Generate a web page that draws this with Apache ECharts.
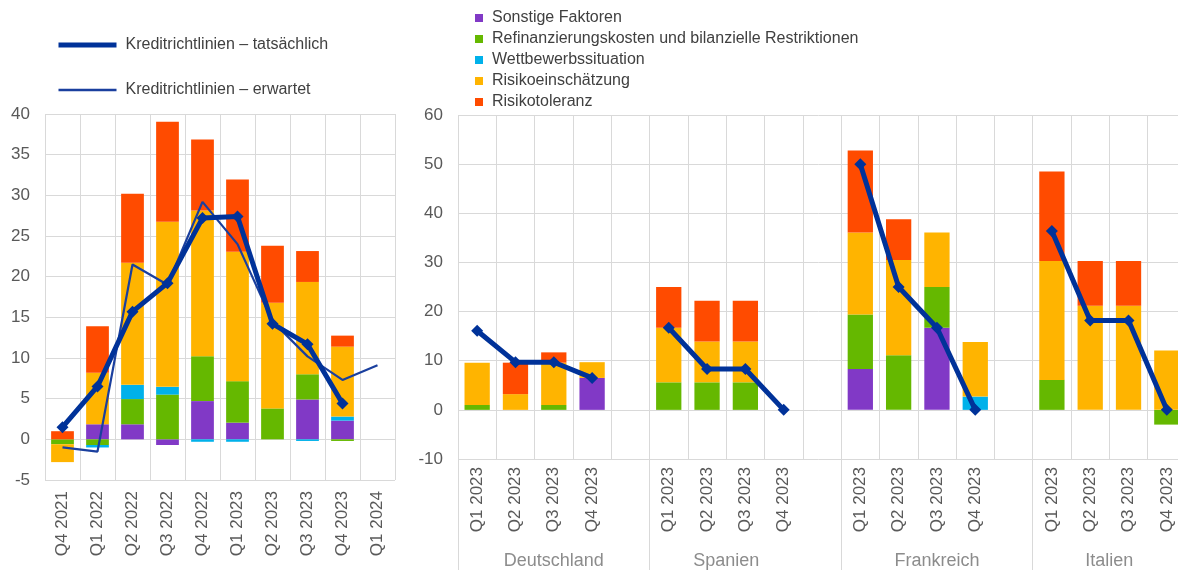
<!DOCTYPE html>
<html lang="de">
<head>
<meta charset="utf-8">
<title>Kreditrichtlinien und Einflussfaktoren</title>
<script src="https://cdn.jsdelivr.net/npm/echarts@6/dist/echarts.min.js"></script>
<style>
  html, body { margin: 0; padding: 0; background: #ffffff; }
  #chart { width: 1178px; height: 574px; }
</style>
</head>
<body>
<div id="chart"></div>
<script>
// Euroraum: Beiträge der Faktoren je Quartal (Prozentpunkte)
const leftQuarters = ['Q4 2021', 'Q1 2022', 'Q2 2022', 'Q3 2022', 'Q4 2022',
                      'Q1 2023', 'Q2 2023', 'Q3 2023', 'Q4 2023', 'Q1 2024'];
const leftSonstige     = [0,    1.85, 1.85, -0.7, 4.7,   2.05, 0,    4.9,   2.3,  null];
const leftRefinanz     = [-0.6, -0.7, 3.1,  5.5,  5.5,   5.1,  3.8,  3.1,  -0.2,  null];
const leftWettbewerb   = [0,    -0.3, 1.75, 0.95, -0.3, -0.3,  0,   -0.2,   0.5,  null];
const leftRisikoEinsch = [-2.2, 6.35, 15.0, 20.3, 17.95, 15.9, 13.0, 11.35, 8.6,  null];
const leftRisikoTol    = [1.0,  5.7,  8.5,  12.3, 8.7,   8.9,  7.0,  3.8,   1.35, null];
const leftActual       = [1.5,  6.5,  15.7, 19.2, 27.2,  27.4, 14.2, 11.7,  4.4,  null];
const leftExpected     = [-1.0, -1.5, 21.5, 19.0, 29.2,  24.0, 14.5, 10.2,  7.3,  9.1];

// Länder: je vier Quartale 2023 (Deutschland, Spanien, Frankreich, Italien)
const countries = ['Deutschland', 'Spanien', 'Frankreich', 'Italien'];
const quarters2023 = ['Q1 2023', 'Q2 2023', 'Q3 2023', 'Q4 2023'];
const ctrySonstige     = [0, 0, 0, 6.5,      0, 0, 0, 0,        8.3, 0, 16.7, 0,      0, 0, 0, 0];
const ctryRefinanz     = [1.0, 0, 1.0, 0,    5.6, 5.6, 5.6, 0,  11.1, 11.1, 8.3, 0,   6.1, 0, 0, -3.0];
const ctryWettbewerb   = [0, 0, 0, 0,        0, 0, 0, 0,        0, 0, 0, 2.7,         0, 0, 0, 0];
const ctryRisikoEinsch = [8.6, 3.2, 8.6, 3.2, 11.1, 8.3, 8.3, 0, 16.7, 19.4, 11.1, 11.1, 24.2, 21.2, 21.2, 12.1];
const ctryRisikoTol    = [0, 6.4, 2.1, 0,    8.3, 8.3, 8.3, 0,  16.7, 8.3, 0, 0,      18.2, 9.1, 9.1, 0];
const ctryActual       = [16.1, 9.7, 9.7, 6.5, 16.7, 8.3, 8.3, 0, 50.0, 25.0, 16.7, 0, 36.4, 18.2, 18.2, 0];

const NAME_ACTUAL = 'Kreditrichtlinien – tatsächlich';
const NAME_EXPECTED = 'Kreditrichtlinien – erwartet';
const factorNames = ['Sonstige Faktoren',
                     'Refinanzierungskosten und bilanzielle Restriktionen',
                     'Wettbewerbssituation',
                     'Risikoeinschätzung',
                     'Risikotoleranz'];
const factorColors = ['#8139c6', '#65b800', '#00b1ea', '#ffb400', '#ff4b00'];

// Insert an empty category between the country blocks
function withGaps(values, gapValue) {
  const out = [];
  countries.forEach((c, ci) => {
    for (let q = 0; q < quarters2023.length; q++) out.push(values[ci * quarters2023.length + q]);
    if (ci < countries.length - 1) out.push(gapValue);
  });
  return out;
}
const rightCategories = withGaps(countries.flatMap(() => quarters2023), '');
const BLOCK = quarters2023.length + 1;

// Half-step axis used only to centre the country names below the quarter labels
const groupSteps = [5, 14, 25, 34];
const groupAxisData = new Array(rightCategories.length * 2 + 1).fill('');
countries.forEach((c, i) => { groupAxisData[groupSteps[i]] = c; });

const FONT = 'Liberation Sans, Arial, sans-serif';
const GRID_COLOR = '#d9d9d9';
const LABEL_COLOR = '#595959';
const LINE_COLOR = '#003299';
const EXPECTED_COLOR = '#1a3f9e';

const leftFactors = [leftSonstige, leftRefinanz, leftWettbewerb, leftRisikoEinsch, leftRisikoTol];
const ctryFactors = [ctrySonstige, ctryRefinanz, ctryWettbewerb, ctryRisikoEinsch, ctryRisikoTol];

const series = [];
leftFactors.forEach((vals, i) => {
  series.push({
    name: factorNames[i], type: 'bar', stack: 'left',
    xAxisIndex: 0, yAxisIndex: 0, data: vals,
    barCategoryGap: '35%',
    itemStyle: { color: factorColors[i] }
  });
});
ctryFactors.forEach((vals, i) => {
  series.push({
    name: factorNames[i], type: 'bar', stack: 'right',
    xAxisIndex: 1, yAxisIndex: 1, data: withGaps(vals, null),
    barCategoryGap: '34%',
    itemStyle: { color: factorColors[i] }
  });
});
series.push({
  name: NAME_EXPECTED, type: 'line', xAxisIndex: 0, yAxisIndex: 0,
  data: leftExpected, symbol: 'none', z: 5,
  lineStyle: { color: EXPECTED_COLOR, width: 2.2 },
  itemStyle: { color: EXPECTED_COLOR }
});
series.push({
  name: NAME_ACTUAL, type: 'line', xAxisIndex: 0, yAxisIndex: 0,
  data: leftActual, symbol: 'diamond', symbolSize: 12, z: 6,
  lineStyle: { color: LINE_COLOR, width: 5 },
  itemStyle: { color: LINE_COLOR }
});
series.push({
  name: NAME_ACTUAL, type: 'line', xAxisIndex: 1, yAxisIndex: 1,
  data: withGaps(ctryActual, null), connectNulls: false,
  symbol: 'diamond', symbolSize: 12, z: 6,
  lineStyle: { color: LINE_COLOR, width: 5 },
  itemStyle: { color: LINE_COLOR }
});

const valueAxisLabel = { fontFamily: FONT, fontSize: 17, color: LABEL_COLOR, margin: 15 };
const categoryAxisLabel = { interval: 0, rotate: 90, fontFamily: FONT, fontSize: 17, color: LABEL_COLOR };

const option = {
  animation: false,
  backgroundColor: '#ffffff',
  textStyle: { fontFamily: FONT },
  legend: [
    {
      data: [
        { name: NAME_ACTUAL, itemStyle: { opacity: 0 }, lineStyle: { width: 5, color: LINE_COLOR } },
        { name: NAME_EXPECTED, itemStyle: { opacity: 0 }, lineStyle: { width: 2.5, color: EXPECTED_COLOR } }
      ],
      orient: 'vertical', left: 56, top: 35, padding: 0,
      itemWidth: 58, itemHeight: 12, itemGap: 25,
      selectedMode: false,
      textStyle: { fontFamily: FONT, fontSize: 16, lineHeight: 20, color: '#404040', padding: [0, 0, 0, 4] }
    },
    {
      data: factorNames,
      orient: 'vertical', left: 475, top: 9, padding: 0,
      icon: 'rect', itemWidth: 8, itemHeight: 8, itemGap: 3,
      selectedMode: false,
      textStyle: { fontFamily: FONT, fontSize: 16, lineHeight: 18, color: '#404040', padding: [0, 0, 0, 4] }
    }
  ],
  grid: [
    { left: 45, width: 350, top: 114, bottom: 94, outerBoundsMode: 'none', containLabel: false },
    { left: 458, width: 728, top: 115, bottom: 115, outerBoundsMode: 'none', containLabel: false }
  ],
  xAxis: [
    {
      type: 'category', gridIndex: 0, data: leftQuarters,
      axisLine: { show: false }, axisTick: { show: false },
      splitLine: { show: true, interval: 0, lineStyle: { color: GRID_COLOR } },
      axisLabel: Object.assign({ margin: 11 }, categoryAxisLabel)
    },
    {
      type: 'category', gridIndex: 1, data: rightCategories,
      axisLine: { show: false }, axisTick: { show: false },
      splitLine: { show: true, interval: 0, lineStyle: { color: GRID_COLOR } },
      axisLabel: Object.assign({ margin: 8 }, categoryAxisLabel)
    },
    {
      // country names; its ticks rise up to the plot and separate the country blocks
      type: 'category', gridIndex: 1, data: groupAxisData, boundaryGap: false,
      position: 'bottom', offset: 111,
      axisLine: { show: false },
      axisTick: { show: true, inside: true, interval: (i) => i % (BLOCK * 2) === 0, length: 111, lineStyle: { color: GRID_COLOR } },
      splitLine: { show: false },
      axisLabel: { interval: 0, margin: -18, fontFamily: FONT, fontSize: 18, color: '#8c8c8c' }
    }
  ],
  yAxis: [
    {
      type: 'value', gridIndex: 0, min: -5, max: 40, interval: 5,
      axisLine: { show: false }, axisTick: { show: false },
      splitLine: { show: true, lineStyle: { color: GRID_COLOR } },
      axisLabel: valueAxisLabel
    },
    {
      type: 'value', gridIndex: 1, min: -10, max: 60, interval: 10,
      axisLine: { show: false }, axisTick: { show: false },
      splitLine: { show: true, lineStyle: { color: GRID_COLOR } },
      axisLabel: valueAxisLabel
    }
  ],
  series: series
};

const chart = echarts.init(document.getElementById('chart'), null, { renderer: 'canvas' });
chart.setOption(option);
</script>
</body>
</html>
